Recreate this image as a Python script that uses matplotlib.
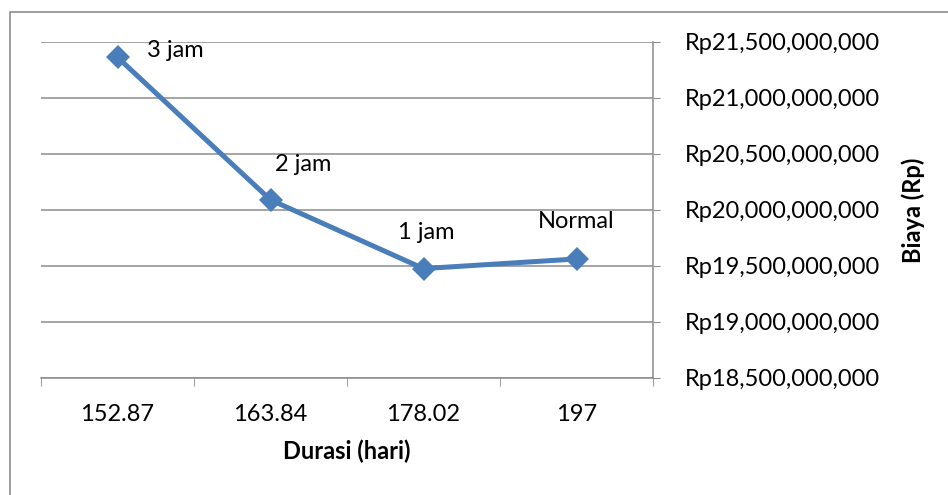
import numpy as np
import matplotlib.pyplot as plt
from matplotlib.lines import Line2D
from matplotlib.ticker import FuncFormatter

plt.rcParams['font.family'] = ['Lato', 'DejaVu Sans']

durasi = ["152.87", "163.84", "178.02", "197"]
biaya = [21.361e9, 20.089e9, 19.476e9, 19.562e9]
label_titik = ["3 jam", "2 jam", "1 jam", "Normal"]
# label offsets in pixels relative to each point
label_offset = [(58, 7), (33, 35), (3, 36), (0, 37)]

W, H = 948, 495
fig = plt.figure(figsize=(W / 100, H / 100), dpi=100)
# chart area border: only the top and left edges fall inside the picture
fig.lines.append(Line2D([10 / W, 10 / W, 1], [0, 1 - 12 / H, 1 - 12 / H],
                        transform=fig.transFigure, color="#8c8c8c", lw=1.2))

ax = fig.add_axes([41 / W, 117 / H, 612 / W, 336.3 / H])
x = np.arange(len(durasi))
ax.plot(x, biaya, color="#4a7ebb", lw=3.6, marker="D", markersize=12,
        markeredgewidth=0, zorder=3)

for xi, yi, txt, off in zip(x, biaya, label_titik, label_offset):
    ax.annotate(txt, (xi, yi), xytext=off, textcoords="offset pixels",
                ha="center", va="center", fontsize=17, color="black")

ax.set_xlim(-0.5, 3.5)
ax.set_ylim(18.5e9, 21.5e9)
ax.set_yticks(np.arange(18.5e9, 21.51e9, 0.5e9))
ax.yaxis.set_major_formatter(FuncFormatter(lambda v, p: "Rp{:,.0f}".format(v)))
ax.yaxis.tick_right()
ax.yaxis.set_label_position("right")
ax.set_xticks(x)
ax.set_xticklabels(durasi)
ax.set_xticks(np.arange(-0.5, 3.6, 1), minor=True)
ax.tick_params(axis="x", which="major", length=0, pad=19, labelsize=17)
ax.tick_params(axis="x", which="minor", length=6, direction="out", color="#8c8c8c")
ax.tick_params(axis="y", length=5, direction="out", color="#8c8c8c", pad=18,
               labelsize=17)

ax.grid(axis="y", color="#8c8c8c", lw=1.1)
ax.set_axisbelow(True)
for s in ["top", "left"]:
    ax.spines[s].set_visible(False)
for s in ["right", "bottom"]:
    ax.spines[s].set_color("#8c8c8c")
    ax.spines[s].set_linewidth(1.1)

ax.set_xlabel("Durasi (hari)", fontweight="bold", fontsize=17, labelpad=10)
ax.set_ylabel("Biaya (Rp)", fontweight="bold", fontsize=17, labelpad=15)

fig.savefig("out.png", dpi=100)
